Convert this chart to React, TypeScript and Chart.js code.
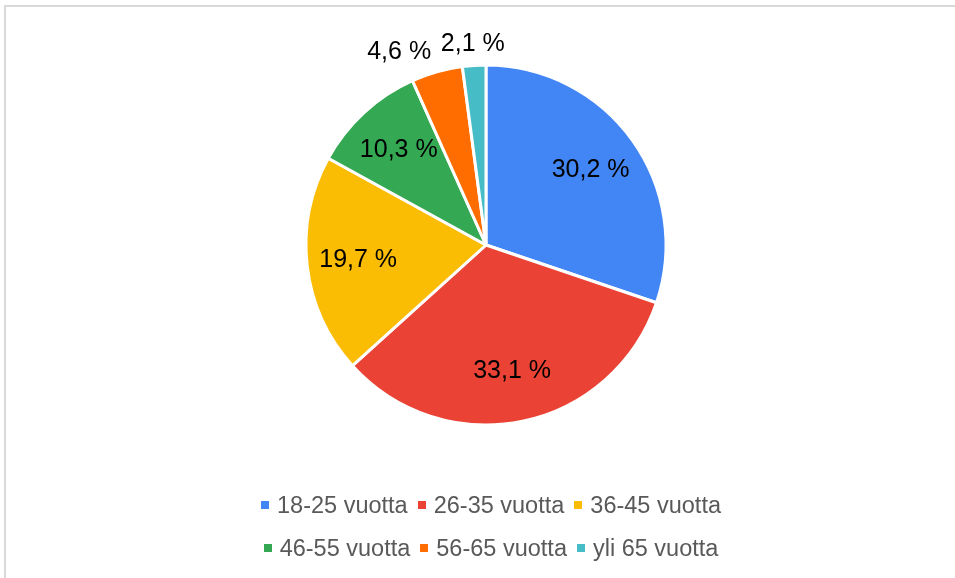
import React, { useEffect, useRef } from "react";
import { Chart, registerables } from "chart.js";

Chart.register(...registerables);

const categories = ["18-25 vuotta", "26-35 vuotta", "36-45 vuotta", "46-55 vuotta", "56-65 vuotta", "yli 65 vuotta"];
const shares = [30.2, 33.1, 19.7, 10.3, 4.6, 2.1];
const sliceColors = ["#4285F4", "#EA4335", "#FBBC04", "#34A853", "#FF6D01", "#46BDC6"];
const legendRows = [[0, 1, 2], [3, 4, 5]];

const FONT = "'Liberation Sans', Arial, sans-serif";

const fmt = (v: number) => v.toFixed(1).replace(".", ",") + " %";

const labelPlugin = {
  id: "sliceLabels",
  afterDatasetsDraw(chart: any) {
    const ctx = chart.ctx;
    const meta = chart.getDatasetMeta(0);
    const data = chart.data.datasets[0].data as number[];
    ctx.save();
    ctx.font = `25px ${FONT}`;
    ctx.fillStyle = "#000000";
    ctx.textBaseline = "middle";
    meta.data.forEach((arc: any, i: number) => {
      const { x, y, startAngle, endAngle, outerRadius } = arc.getProps(
        ["x", "y", "startAngle", "endAngle", "outerRadius"],
        true
      );
      const mid = (startAngle + endAngle) / 2;
      const txt = fmt(data[i]);
      if (data[i] >= 5) {
        const r = outerRadius * 0.715;
        ctx.textAlign = "center";
        ctx.fillText(txt, x + Math.cos(mid) * r, y + Math.sin(mid) * r);
      } else {
        const r = outerRadius + 21;
        const c = Math.cos(mid);
        ctx.textAlign = c < -0.15 ? "right" : c > 0.15 ? "left" : "center";
        ctx.fillText(txt, x + c * r, y + Math.sin(mid) * r);
      }
    });
    ctx.restore();
  },
};

export default function App() {
  const canvasRef = useRef<HTMLCanvasElement | null>(null);

  useEffect(() => {
    if (!canvasRef.current) return;
    const chart = new Chart(canvasRef.current, {
      type: "pie",
      data: {
        labels: categories,
        datasets: [
          {
            data: shares,
            backgroundColor: sliceColors,
            borderColor: "#ffffff",
            borderWidth: 3,
            radius: 180,
          } as any,
        ],
      },
      options: {
        animation: false,
        responsive: false,
        maintainAspectRatio: false,
        layout: { padding: { left: 17, right: 0, top: 0, bottom: 88 } },
        plugins: {
          legend: { display: false },
          tooltip: { enabled: false },
        },
      },
      plugins: [labelPlugin],
    });
    return () => chart.destroy();
  }, []);

  return (
    <div
      style={{
        position: "fixed",
        left: 0,
        top: 0,
        width: 955,
        height: 578,
        overflow: "hidden",
        background: "#ffffff",
      }}
    >
      <div
        style={{
          position: "absolute",
          left: 4,
          top: 5,
          width: 1000,
          height: 700,
          borderLeft: "2px solid #d9d9d9",
          borderTop: "2px solid #d9d9d9",
        }}
      />
      <canvas
        ref={canvasRef}
        width={955}
        height={578}
        style={{ position: "absolute", left: 0, top: 0, width: 955, height: 578 }}
      />
      {legendRows.map((row, ri) => (
        <div
          key={ri}
          style={{
            position: "absolute",
            left: 0,
            width: 982,
            top: 483.5 + ri * 43,
            height: 43,
            display: "flex",
            justifyContent: "center",
            alignItems: "center",
            gap: 10,
            fontFamily: FONT,
            fontSize: 23.5,
            color: "#595959",
            whiteSpace: "nowrap",
          }}
        >
          {row.map((idx) => (
            <div key={idx} style={{ display: "flex", alignItems: "center" }}>
              <span
                style={{
                  display: "inline-block",
                  width: 8,
                  height: 8,
                  background: sliceColors[idx],
                  marginRight: 8,
                }}
              />
              <span>{categories[idx]}</span>
            </div>
          ))}
        </div>
      ))}
    </div>
  );
}
